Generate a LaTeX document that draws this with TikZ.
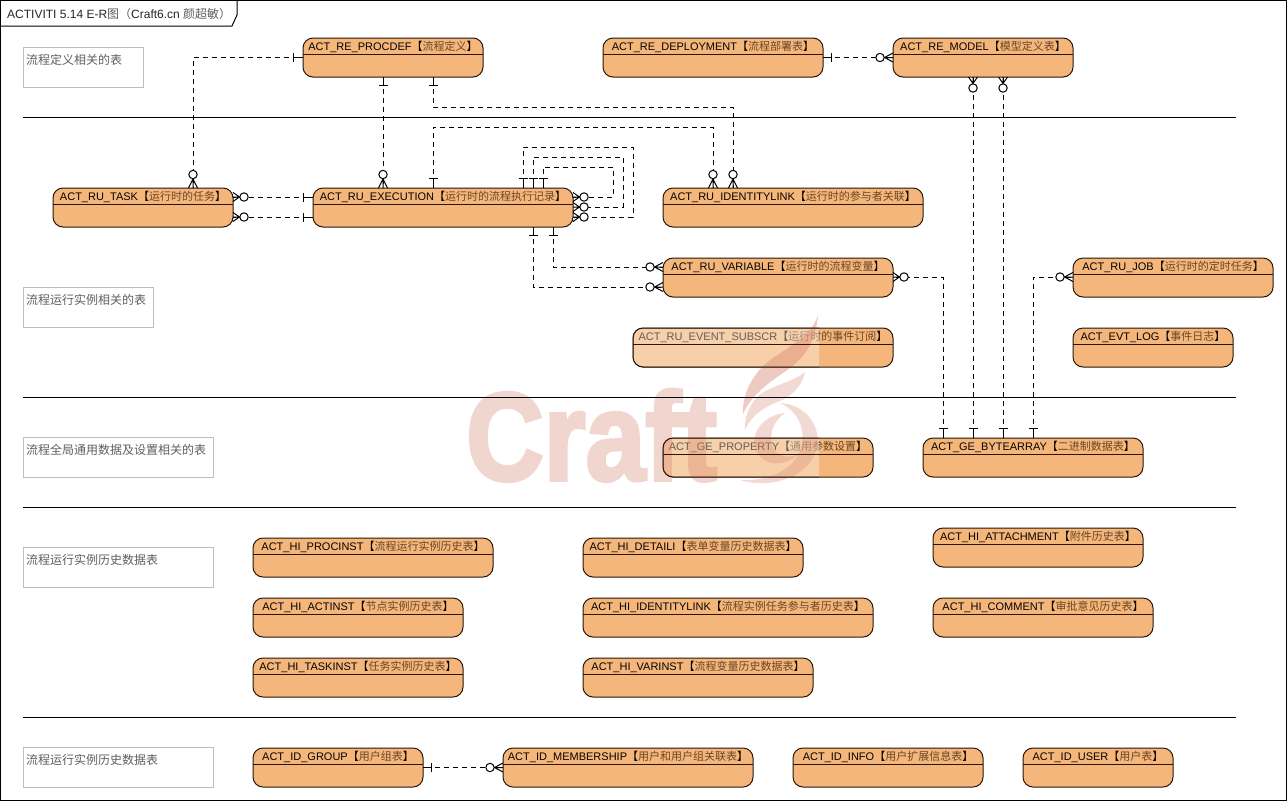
\documentclass[tikz,border=0pt]{standalone}
\usepackage{fontspec}
\setmainfont{Liberation Sans}
\newfontfamily\cjk{Noto Sans CJK SC}
\newfontfamily\wmfont[BoldFeatures={FakeBold=3}]{Liberation Sans}
\definecolor{entfill}{RGB}{244,182,122}
\definecolor{entline}{RGB}{40,22,8}
\definecolor{zhbrown}{RGB}{105,70,40}
\definecolor{zhgray}{RGB}{95,95,95}
\definecolor{notegray}{RGB}{190,190,190}
\definecolor{wmark}{RGB}{215,130,110}
\newcommand{\zh}[1]{{\cjk\textcolor{black!85!entline}{【}\textcolor{zhbrown}{#1}\textcolor{black!85!entline}{】}}}
\tikzset{
  x=1pt,y=-1pt,
  entity/.style={draw=entline,fill=entfill,line width=1pt,rounded corners=10pt,anchor=north west,
    inner sep=0pt,outer sep=0pt,minimum height=39pt,align=center,text height=12pt,text depth=27pt,
    font=\fontsize{11}{13}\selectfont,text=black!85!entline},
  notebox/.style={draw=notegray,line width=1pt,anchor=north west,inner xsep=3pt,inner ysep=0pt,outer sep=0pt,
    minimum height=40pt,text height=17pt,text depth=23pt,align=left,text width={#1},
    font=\fontsize{12}{14}\selectfont\cjk,text=zhgray},
  rel/.style={draw=black,line width=1pt,dash pattern=on 5pt off 4pt},
  rel far/.style={rel,dash phase=4pt},
  rel near/.style={rel,dash phase=6pt},
  mark line/.style={draw=black,line width=1pt},
  divider/.style={draw=black,line width=1pt},
}
% entity box: name, x1, y1, x2, text
\newcommand{\ent}[5]{%
  \node[entity,minimum width={#4-#2}] (#1) at (#2,#3) {#5};
  \draw[draw=entline,line width=1pt] ([yshift=-16pt]#1.north west) -- ([yshift=-16pt]#1.north east);}
\newcommand{\reoutline}[1]{%
  \draw[draw=entline,line width=1pt,rounded corners=10pt] (#1.north west) rectangle (#1.south east);
  \draw[draw=entline,line width=1pt] ([yshift=-16pt]#1.north west) -- ([yshift=-16pt]#1.north east);}
% one-end: point, angle, distance of the bar
\newcommand{\oneend}[3]{\begin{scope}[shift={#1},rotate=#2]
  \draw[mark line] (0,0) -- (#3,0) (#3,-4.5) -- (#3,4.5);\end{scope}}
% zero-or-many end: point, angle, distance of circle centre
\newcommand{\manyend}[3]{\begin{scope}[shift={#1},rotate=#2]
  \draw[mark line] (0,-4.5) -- (#3-4.5,0) -- (0,4.5) (0,0) -- (#3-4.5,0);
  \draw[mark line,fill=white] (#3,0) circle[radius=4.2];\end{scope}}
\begin{document}
\begin{tikzpicture}
\useasboundingbox (0,0) rectangle (1287,801);
\fill[white] (0,0) rectangle (1287,801);
% dividers outside watermark
\foreach \yy/\nm in {117/d1,507/d3,717/d4}{
  \coordinate (\nm a) at (23,\yy); \coordinate (\nm b) at (1236,\yy);
  \draw[divider] (\nm a) -- (\nm b);}
% note boxes
\node[notebox=114pt] (n1) at (23,47) {流程定义相关的表};
\node[notebox=124pt] (n2) at (23,287) {流程运行实例相关的表};
\node[notebox=184pt] (n3) at (23,437) {流程全局通用数据及设置相关的表};
\node[notebox=184pt] (n4) at (23,547) {流程运行实例历史数据表};
\node[notebox=184pt] (n5) at (23,747) {流程运行实例历史数据表};
% entities
\ent{pd}{303}{38}{483}{ACT\_RE\_PROCDEF\zh{流程定义}}
\ent{dep}{603}{38}{823}{ACT\_RE\_DEPLOYMENT\zh{流程部署表}}
\ent{model}{893}{38}{1073}{ACT\_RE\_MODEL\zh{模型定义表}}
\ent{task}{53}{188}{233}{ACT\_RU\_TASK\zh{运行时的任务}}
\ent{exec}{313}{188}{573}{ACT\_RU\_EXECUTION\zh{运行时的流程执行记录}}
\ent{idl}{663}{188}{923}{ACT\_RU\_IDENTITYLINK\zh{运行时的参与者关联}}
\ent{var}{663}{258}{893}{ACT\_RU\_VARIABLE\zh{运行时的流程变量}}
\ent{job}{1073}{258}{1273}{ACT\_RU\_JOB\zh{运行时的定时任务}}
\ent{evs}{633}{328}{893}{ACT\_RU\_EVENT\_SUBSCR\zh{运行时的事件订阅}}
\ent{evl}{1073}{328}{1233}{ACT\_EVT\_LOG\zh{事件日志}}
\ent{prop}{663}{438}{873}{ACT\_GE\_PROPERTY\zh{通用参数设置}}
\ent{byte}{923}{438}{1143}{ACT\_GE\_BYTEARRAY\zh{二进制数据表}}
\ent{hpi}{253}{538}{493}{ACT\_HI\_PROCINST\zh{流程运行实例历史表}}
\ent{hde}{583}{538}{803}{ACT\_HI\_DETAILI\zh{表单变量历史数据表}}
\ent{hat}{933}{528}{1143}{ACT\_HI\_ATTACHMENT\zh{附件历史表}}
\ent{hac}{253}{598}{463}{ACT\_HI\_ACTINST\zh{节点实例历史表}}
\ent{hil}{583}{598}{873}{ACT\_HI\_IDENTITYLINK\zh{流程实例任务参与者历史表}}
\ent{hco}{933}{598}{1153}{ACT\_HI\_COMMENT\zh{审批意见历史表}}
\ent{hta}{253}{658}{463}{ACT\_HI\_TASKINST\zh{任务实例历史表}}
\ent{hva}{583}{658}{813}{ACT\_HI\_VARINST\zh{流程变量历史数据表}}
\ent{igr}{253}{748}{423}{ACT\_ID\_GROUP\zh{用户组表}}
\ent{ime}{503}{748}{753}{ACT\_ID\_MEMBERSHIP\zh{用户和用户组关联表}}
\ent{iin}{793}{748}{983}{ACT\_ID\_INFO\zh{用户扩展信息表}}
\ent{ius}{1023}{748}{1173}{ACT\_ID\_USER\zh{用户表}}
% connectors: each starts at its one-end so that the dash leaves the bar clear
\draw[rel far] (pd.west) -| (193,0 |- task.north);
\draw[rel near] (383,0 |- pd.south) -- (383,0 |- exec.north);
\draw[rel near] (433,0 |- pd.south) -- (433,107) -- (733,107) -- (733,0 |- idl.north);
\draw[rel far] (433,0 |- exec.north) -- (433,127) -- (713,127) -- (713,0 |- idl.north);
\draw[rel far] (523,0 |- exec.north) -- (523,147) -- (633,147) -- (633,217) -- (exec.east |- 0,217);
\draw[rel far] (533,0 |- exec.north) -- (533,157) -- (623,157) -- (623,207) -- (exec.east |- 0,207);
\draw[rel far] (543,0 |- exec.north) -- (543,167) -- (613,167) -- (613,197) -- (exec.east |- 0,197);
\draw[rel far] (exec.west |- 0,197) -- (task.east |- 0,197);
\draw[rel far] (exec.west |- 0,217) -- (task.east |- 0,217);
\draw[rel near] (533,0 |- exec.south) -- (533,287) -- (var.west |- 0,287);
\draw[rel near] (553,0 |- exec.south) -- (553,267) -- (var.west |- 0,267);
\draw[rel far] (943,0 |- byte.north) -- (943,277) -- (var.east |- 0,277);
\draw[rel far] (973,0 |- byte.north) -- (973,0 |- model.south);
\draw[rel far] (1003,0 |- byte.north) -- (1003,0 |- model.south);
\draw[rel far] (1033,0 |- byte.north) -- (1033,277) -- (job.west |- 0,277);
\draw[rel near] (dep.east) -- (model.west);
\draw[rel near] (igr.east) -- (ime.west);
% ends
\oneend{(pd.west)}{180}{10}
\manyend{(193,0 |- task.north)}{90}{13.5}
\oneend{(383,0 |- pd.south)}{270}{8}
\manyend{(383,0 |- exec.north)}{90}{13.5}
\oneend{(433,0 |- pd.south)}{270}{8}
\manyend{(733,0 |- idl.north)}{90}{13.5}
\oneend{(433,0 |- exec.north)}{90}{10}
\manyend{(713,0 |- idl.north)}{90}{13.5}
\oneend{(523,0 |- exec.north)}{90}{10}
\oneend{(533,0 |- exec.north)}{90}{10}
\oneend{(543,0 |- exec.north)}{90}{10}
\manyend{(exec.east |- 0,197)}{0}{11}
\manyend{(exec.east |- 0,207)}{0}{11}
\manyend{(exec.east |- 0,217)}{0}{11}
\manyend{(task.east |- 0,197)}{0}{11}
\manyend{(task.east |- 0,217)}{0}{11}
\oneend{(exec.west |- 0,197)}{180}{10}
\oneend{(exec.west |- 0,217)}{180}{10}
\oneend{(533,0 |- exec.south)}{270}{8}
\oneend{(553,0 |- exec.south)}{270}{8}
\manyend{(var.west |- 0,287)}{180}{13}
\manyend{(var.west |- 0,267)}{180}{13}
\manyend{(var.east |- 0,277)}{0}{11}
\oneend{(943,0 |- byte.north)}{90}{10}
\manyend{(973,0 |- model.south)}{270}{11}
\oneend{(973,0 |- byte.north)}{90}{10}
\manyend{(1003,0 |- model.south)}{270}{11}
\oneend{(1003,0 |- byte.north)}{90}{10}
\manyend{(job.west |- 0,277)}{180}{13}
\oneend{(1033,0 |- byte.north)}{90}{10}
\oneend{(dep.east)}{0}{8}
\manyend{(model.west)}{180}{13}
\oneend{(igr.east)}{0}{8}
\manyend{(ime.west)}{180}{13}
% watermark
\fill[white,opacity=.36] (468,320) rectangle (819,487);
\begin{scope}[transparency group,opacity=.33]
\node[anchor=base west,inner sep=0pt,transform shape,xscale=.86,text=wmark,
  font=\fontsize{125}{125}\selectfont\wmfont\bfseries] (wm) at (466,480) {Craft};
\end{scope}
\begin{scope}[fill=wmark,opacity=.42]
\fill (818,315) .. controls (812,335) and (790,346) .. (770,360)
  .. controls (752,374) and (742,395) .. (743,414)
  .. controls (750,398) and (764,386) .. (780,375)
  .. controls (798,363) and (815,350) .. (818,315) -- cycle;
\end{scope}
\begin{scope}[fill=wmark,opacity=.3]
\fill (805,372) .. controls (790,384) and (768,386) .. (757,397)
  .. controls (748,407) and (744,420) .. (745,430)
  .. controls (752,414) and (766,406) .. (780,401)
  .. controls (792,396) and (802,386) .. (805,372) -- cycle;
\fill (785,413) .. controls (764,415) and (751,432) .. (755,447)
  .. controls (759,463) and (780,471) .. (800,453)
  .. controls (788,460) and (775,456) .. (772,445)
  .. controls (769,432) and (774,421) .. (785,413) -- cycle;
\fill (780,403) .. controls (796,410) and (805,426) .. (802,444)
  .. controls (798,468) and (770,482) .. (740,480)
  .. controls (772,490) and (812,476) .. (817,446)
  .. controls (821,422) and (802,404) .. (780,403) -- cycle;
\end{scope}
% strokes kept dark above the watermark
\coordinate (d2a) at (23,397); \coordinate (d2b) at (1236,397);
\draw[divider] (d2a) -- (d2b);
\begin{scope}
\clip (600,320) rectangle (819,487);
\reoutline{evs}
\reoutline{prop}
\end{scope}
% frame and title tab
\coordinate (fr1) at (0.5,0.5); \coordinate (fr2) at (1286.5,800.5);
\draw[draw=black,line width=1pt] (fr1) rectangle (fr2);
\coordinate (t1) at (0.5,26); \coordinate (t2) at (232,26); \coordinate (t3) at (237,15); \coordinate (t4) at (237,0.5);
\draw[draw=black,line width=1pt] (t1) -- (t2) -- (t3) -- (t4);
\node[anchor=base west,inner sep=0pt,font=\fontsize{12}{14}\selectfont,text=black!85] (title) at (7,18.5)
  {ACTIVITI 5.14 E-R{\cjk\color{zhgray}图（}Craft6.cn {\cjk\color{zhgray}颜超敏）}};
\end{tikzpicture}
\end{document}
